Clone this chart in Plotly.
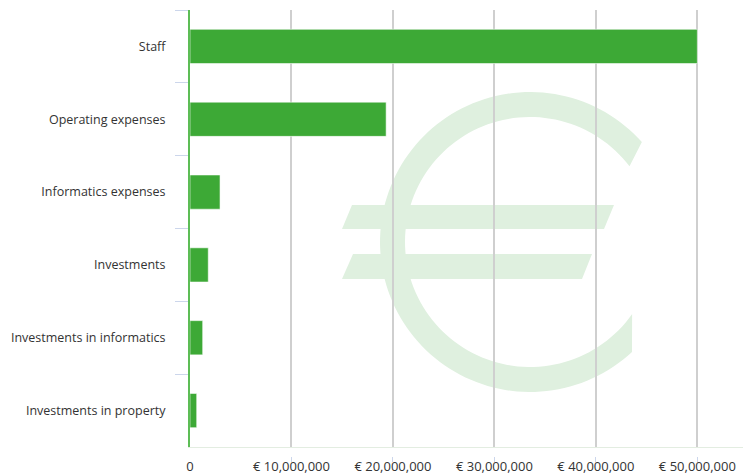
import numpy as np
import plotly.graph_objects as go

# ---- data ----
categories = ["Staff", "Operating expenses", "Informatics expenses", "Investments",
              "Investments in informatics", "Investments in property"]
amounts = [50000000, 19330000, 2960000, 1800000, 1250000, 660000]
tick_values = [0, 10000000, 20000000, 30000000, 40000000, 50000000]
tick_labels = ["0", "€ 10,000,000", "€ 20,000,000", "€ 30,000,000", "€ 40,000,000", "€ 50,000,000"]

W, H = 745, 475
L, R, T, B = 190, 2, 10, 13
AXIS_BOTTOM_PX = 447
plot_h = H - T - B
dom_bottom = (H - B - AXIS_BOTTOM_PX) / plot_h

BAR = "#3da936"
EURO = "#dff0df"

fig = go.Figure()
fig.add_trace(go.Bar(
    x=amounts, y=categories, orientation="h",
    marker=dict(color=BAR, line=dict(color="rgba(255,255,255,0.55)", width=1)),
    hoverinfo="x+y", showlegend=False,
))
# invisible trace to carry the tick-mark axis
fig.add_trace(go.Scatter(x=[None], y=[None], xaxis="x2", yaxis="y",
                         showlegend=False, hoverinfo="skip"))

# ---- euro watermark (screen pixel geometry, relative to plot top-left) ----
ox, oy = L, T
def P(px, py):
    return (px - ox, oy - py)

cx, cy, Ro, Ri = 530, 242, 150, 125
a_out0 = np.degrees(np.arctan2(142 - cy, 642 - cx))
a_out1 = np.degrees(np.arctan2(352 - cy, 632 - cx)) - 360
a_in0 = np.degrees(np.arctan2(314 - cy, 632 - cx)) - 360
a_in1 = np.degrees(np.arctan2(166 - cy, 630 - cx))
pts = []
for a in np.linspace(a_out0, a_out1, 120):
    r = np.radians(a)
    pts.append(P(cx + Ro * np.cos(r), cy + Ro * np.sin(r)))
for a in np.linspace(a_in0, a_in1, 120):
    r = np.radians(a)
    pts.append(P(cx + Ri * np.cos(r), cy + Ri * np.sin(r)))
ring_path = "M " + " L ".join(f"{x:.2f},{y:.2f}" for x, y in pts) + " Z"

def poly(corners):
    q = [P(*c) for c in corners]
    return "M " + " L ".join(f"{x:.2f},{y:.2f}" for x, y in q) + " Z"

bar1 = poly([(352, 205), (614, 205), (604, 229), (342, 229)])
bar2 = poly([(353, 254), (592, 254), (582, 279), (342, 279)])

for pth in (ring_path, bar1, bar2):
    fig.add_shape(type="path", path=pth, xref="paper", yref="paper",
                  xsizemode="pixel", ysizemode="pixel", xanchor=0, yanchor=1,
                  fillcolor=EURO, line=dict(width=0), layer="below")

fig.update_layout(
    width=W, height=H,
    margin=dict(l=L, r=R, t=T, b=B, pad=0, autoexpand=False),
    paper_bgcolor="white", plot_bgcolor="rgba(0,0,0,0)",
    font=dict(family="Open Sans", color="#333333"),
    bargap=0.53,
    xaxis=dict(
        range=[0, 54.5e6], anchor="y", automargin=False,
        tickvals=tick_values, ticktext=tick_labels,
        ticks="", ticklabelstandoff=7,
        tickfont=dict(size=13, color="#333333"),
        showgrid=True, gridcolor="#cfcfcf", gridwidth=1.5,
        showline=True, linecolor="#e3ede1", linewidth=1,
        zeroline=False, fixedrange=True,
    ),
    xaxis2=dict(
        overlaying="x", matches="x", anchor="free", position=0, automargin=False,
        tickvals=tick_values, ticks="inside", ticklen=5, tickcolor="#ccd6eb",
        showticklabels=False, showgrid=False, showline=False, zeroline=False,
    ),
    yaxis=dict(
        domain=[dom_bottom, 1], autorange="reversed", automargin=False,
        categoryorder="array", categoryarray=categories,
        tickson="boundaries", ticks="outside", ticklen=13, tickcolor="#ccd6eb",
        ticklabelstandoff=20,
        tickfont=dict(size=12.5, color="#333333"),
        showline=True, linecolor="#5dbd56", linewidth=2,
        showgrid=False, zeroline=False, fixedrange=True,
    ),
)

fig.write_html("out.html", config={"displayModeBar": False},
               post_script="document.body.style.margin='0';")
